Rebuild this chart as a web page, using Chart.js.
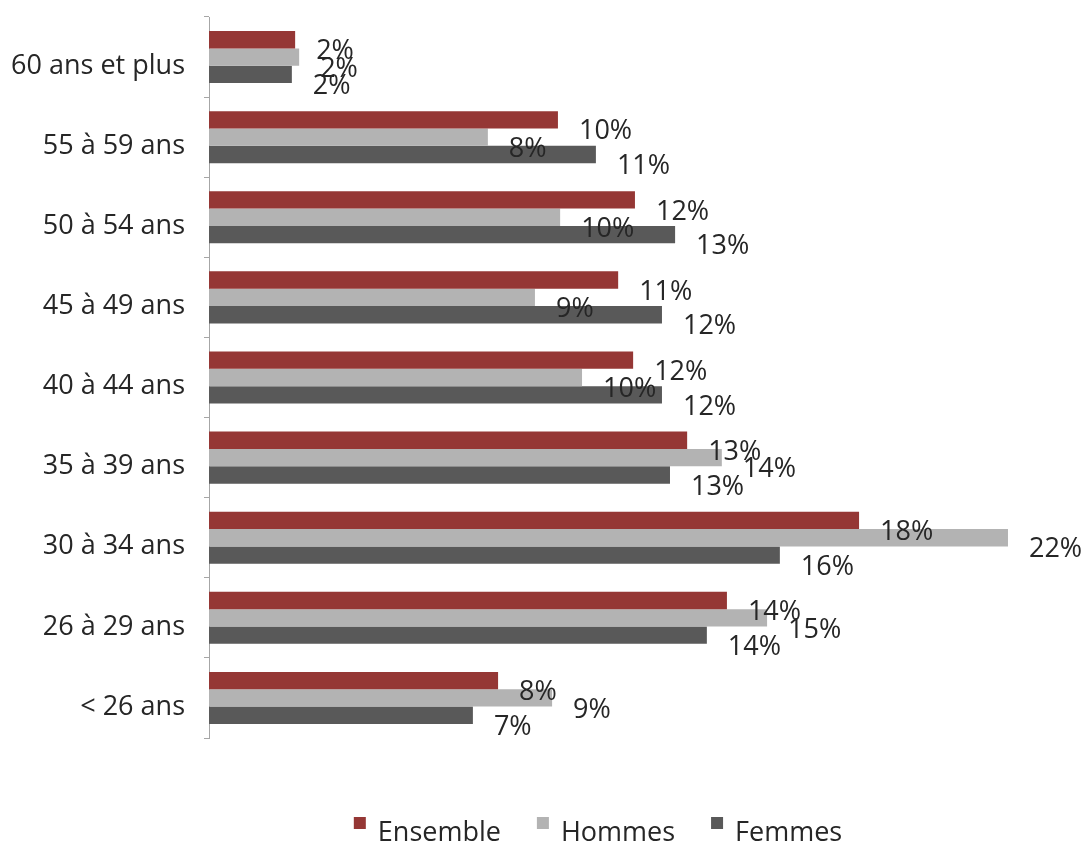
<!DOCTYPE html>
<html>
<head>
<meta charset="utf-8">
<script src="https://cdn.jsdelivr.net/npm/chart.js@4"></script>
<style>
    html, body { margin: 0; padding: 0; background: #fff; }
    #wrap { width: 1087px; height: 845px; }
</style>
</head>
<body>
<div id="wrap"><canvas id="ageChart"></canvas></div>
<script>
// Age groups, top to bottom
const ageGroups = ['60 ans et plus', '55 à 59 ans', '50 à 54 ans', '45 à 49 ans', '40 à 44 ans',
    '35 à 39 ans', '30 à 34 ans', '26 à 29 ans', '< 26 ans'];

// Share of each age group (%)
const ensemble = [2.36, 9.56, 11.67, 11.21, 11.62, 13.10, 17.81, 14.19, 7.92];
const hommes = [2.47, 7.64, 9.62, 8.93, 10.22, 14.05, 21.89, 15.29, 9.40];
const femmes = [2.27, 10.60, 12.77, 12.41, 12.41, 12.63, 15.64, 13.64, 7.23];

const seriesNames = ['Ensemble', 'Hommes', 'Femmes'];
const seriesColors = ['#953735', '#b3b3b3', '#595959'];

const FONT = '"Open Sans", "DejaVu Sans", sans-serif';
const FONT_SIZE = 27;

// Excel-style data labels: shifted right and a bit down from the bar end
const barLabels = {
    id: 'barLabels',
    afterDatasetsDraw(chart) {
        const ctx = chart.ctx;
        ctx.save();
        ctx.font = FONT_SIZE + 'px ' + FONT;
        ctx.fillStyle = '#262626';
        ctx.textAlign = 'left';
        ctx.textBaseline = 'middle';
        chart.data.datasets.forEach((ds, i) => {
            chart.getDatasetMeta(i).data.forEach((bar, j) => {
                ctx.fillText(Math.round(ds.data[j]) + '%', bar.x + 21, bar.y + 12);
            });
        });
        ctx.restore();
    }
};

// Legend drawn by hand to get the raised square markers
const bottomLegend = {
    id: 'bottomLegend',
    afterDraw(chart) {
        const ctx = chart.ctx;
        const gap = 36;
        ctx.save();
        ctx.font = FONT_SIZE + 'px ' + FONT;
        ctx.textBaseline = 'middle';
        ctx.textAlign = 'left';
        const items = chart.data.datasets.map(ds => ({
            text: ds.label,
            color: ds.backgroundColor,
            w: 12 + 12 + ctx.measureText(ds.label).width
        }));
        const total = items.reduce((s, it) => s + it.w, 0) + gap * (items.length - 1);
        let x = 598 - total / 2;
        items.forEach(it => {
            ctx.fillStyle = it.color;
            ctx.fillRect(x, 817, 12, 12);
            ctx.fillStyle = '#262626';
            ctx.fillText(it.text, x + 24, 833);
            x += it.w + gap;
        });
        ctx.restore();
    }
};

const ctx = document.getElementById('ageChart').getContext('2d');

new Chart(ctx, {
    type: 'bar',
    data: {
        labels: ageGroups,
        datasets: [ensemble, hommes, femmes].map((values, i) => ({
            label: seriesNames[i],
            data: values,
            backgroundColor: seriesColors[i],
            borderWidth: 0,
            categoryPercentage: 0.65,
            barPercentage: 1.0
        }))
    },
    options: {
        indexAxis: 'y',
        responsive: true,
        maintainAspectRatio: false,
        animation: false,
        layout: {
            padding: { top: 17, right: 2, bottom: 107, left: 0 }
        },
        plugins: {
            legend: { display: false },
            tooltip: { enabled: false }
        },
        scales: {
            x: {
                display: false,
                min: 0,
                max: 24
            },
            y: {
                afterFit(scale) {
                    // fixed axis position, no extra room for the end labels
                    scale.width = 209;
                    scale.paddingTop = 0;
                    scale.paddingBottom = 0;
                },
                border: {
                    display: true,
                    color: '#a6a6a6'
                },
                grid: {
                    drawOnChartArea: false,
                    drawTicks: true,
                    tickLength: 5,
                    color: '#a6a6a6'
                },
                ticks: {
                    padding: 19,
                    labelOffset: 9,
                    color: '#262626',
                    font: {
                        family: FONT,
                        size: FONT_SIZE
                    }
                }
            }
        }
    },
    plugins: [barLabels, bottomLegend]
});
</script>
</body>
</html>
